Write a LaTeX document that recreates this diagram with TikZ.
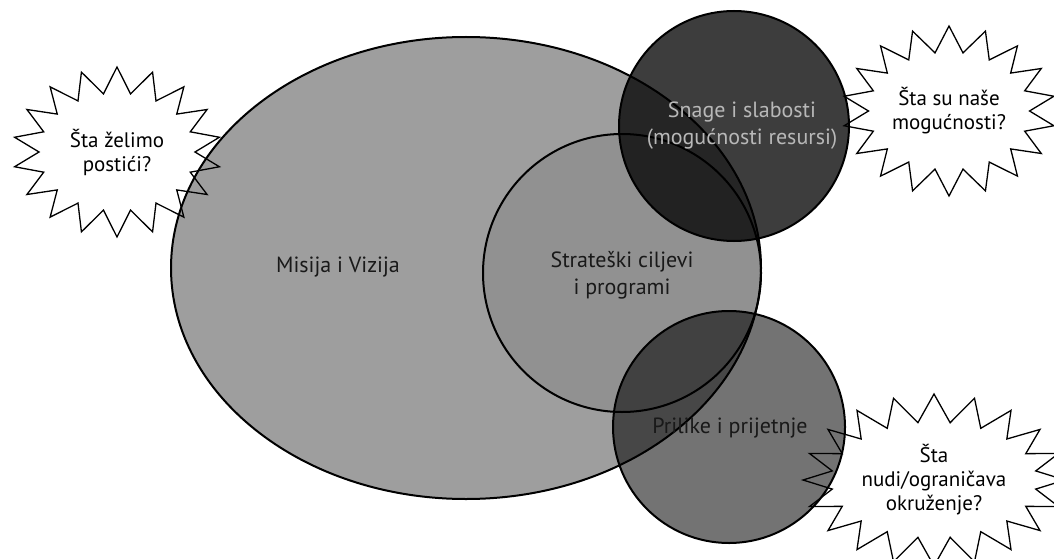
\documentclass[tikz,border=0pt]{standalone}
\usepackage{fontspec}
\setmainfont{PT Sans}
\usetikzlibrary{shapes.geometric,shapes.symbols}
\tikzset{
  area/.style={draw=black, line width=2pt, inner sep=0pt},
  burst/.style={starburst, draw=black, line width=1.3pt, align=center, inner sep=0pt,
    random starburst=0, font=\fontsize{21}{24}\selectfont},
  lbl/.style={align=center, text=black!90, font=\fontsize{22}{27}\selectfont},
}
\begin{document}
\begin{tikzpicture}[x=1pt,y=-1pt]
\useasboundingbox (0,0) rectangle (1054,559);
% areas
\node[area, ellipse, fill=black!38, minimum width=590pt, minimum height=462pt] (mv) at (466,268) {};
\node[area, circle, fill=black, fill opacity=0.08, minimum size=278pt] (sc) at (622,273) {};
\node[area, circle, fill=black, fill opacity=0.76, minimum size=230pt] (ss) at (734,126) {};
\node[area, circle, fill=black, fill opacity=0.55, minimum size=232pt] (pp) at (729,427) {};
% labels
\node[lbl] (tmv) at (338,267) {Misija i Vizija};
\node[lbl] (tsc) at (622,275) {Strateški ciljevi\\i programi};
\node[lbl, text=black!28] (tss) at (742,126) {Snage i slabosti\\(mogućnosti resursi)};
\node[lbl] (tpp) at (730,428) {Prilike i prijetnje};
% starbursts
\node[burst, starburst points=18, starburst point height=26pt,
  minimum width=208pt, minimum height=170pt] (q1) at (117,152) {Šta želimo\\postići?};
\node[burst, starburst points=18, starburst point height=26pt,
  minimum width=205pt, minimum height=170pt] (q2) at (949,111) {Šta su naše\\mogućnosti?};
\node[burst, starburst points=20, starburst point height=28pt,
  minimum width=262pt, minimum height=172pt] (q3) at (934,480) {Šta\\nudi/ograničava\\okruženje?};
\end{tikzpicture}
\end{document}
